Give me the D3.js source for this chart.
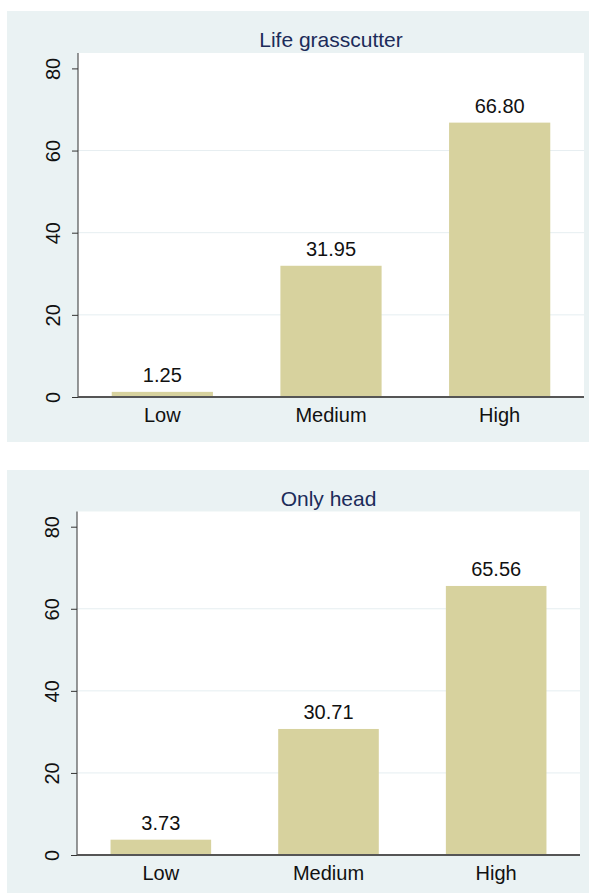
<!DOCTYPE html>
<html>
<head>
<meta charset="utf-8">
<script src="https://cdn.jsdelivr.net/npm/d3@7"></script>
<style>
  html, body { margin: 0; padding: 0; background: #ffffff; }
  svg { display: block; }
  text { font-family: "Liberation Sans", Arial, Helvetica, sans-serif; }
</style>
</head>
<body>
<svg id="chart" width="589" height="893"></svg>
<script>
// ---- data ----
const categories = ["Low", "Medium", "High"];
const panelTitles = ["Life grasscutter", "Only head"];
const lifeValues = [1.25, 31.95, 66.80];
const headValues = [3.73, 30.71, 65.56];
const yTicks = [0, 20, 40, 60, 80];
const gridTicks = [20, 40, 60];

const svg = d3.select("#chart");

const panels = [
  { title: panelTitles[0], values: lifeValues,
    box: { x: 7, y: 11, w: 582, h: 431 },
    plot: { left: 78, right: 584, top: 53, bottom: 397 }, y80: 68.4 },
  { title: panelTitles[1], values: headValues,
    box: { x: 7, y: 470, w: 582, h: 423 },
    plot: { left: 77, right: 580, top: 511.5, bottom: 855 }, y80: 526.7 }
];

panels.forEach(p => {
  const g = svg.append("g");
  // background region
  g.append("rect")
    .attr("x", p.box.x).attr("y", p.box.y)
    .attr("width", p.box.w).attr("height", p.box.h)
    .attr("fill", "#eaf2f3");
  // plot region
  g.append("rect")
    .attr("x", p.plot.left).attr("y", p.plot.top)
    .attr("width", p.plot.right - p.plot.left)
    .attr("height", p.plot.bottom - p.plot.top)
    .attr("fill", "#ffffff");

  const pxPerUnit = (p.plot.bottom - p.y80) / 80;
  const yMax = (p.plot.bottom - p.plot.top) / pxPerUnit;
  const y = d3.scaleLinear().domain([0, yMax]).range([p.plot.bottom, p.plot.top]);
  const x = d3.scaleBand().domain(categories)
    .range([p.plot.left, p.plot.right]).paddingInner(0.4).paddingOuter(0.2);

  // gridlines
  g.selectAll(".grid").data(gridTicks).enter().append("line")
    .attr("x1", p.plot.left).attr("x2", p.plot.right)
    .attr("y1", d => y(d)).attr("y2", d => y(d))
    .attr("stroke", "#e6eef1").attr("stroke-width", 1);

  // bars
  g.selectAll(".bar").data(p.values).enter().append("rect")
    .attr("x", (d, i) => x(categories[i]))
    .attr("width", x.bandwidth())
    .attr("y", d => y(d))
    .attr("height", d => y(0) - y(d))
    .attr("fill", "#d7d29e");

  // value labels
  g.selectAll(".val").data(p.values).enter().append("text")
    .attr("x", (d, i) => x(categories[i]) + x.bandwidth() / 2)
    .attr("y", d => y(d) - 10)
    .attr("text-anchor", "middle")
    .attr("font-size", 20)
    .attr("fill", "#111")
    .text(d => d.toFixed(2));

  // y axis
  const yAxis = d3.axisLeft(y).tickValues(yTicks).tickSize(6).tickPadding(12);
  const ya = g.append("g").attr("transform", `translate(${p.plot.left},0)`).call(yAxis);
  ya.select(".domain").attr("stroke", "#333").attr("d", `M0,${p.plot.bottom}V${p.plot.top}`);
  ya.selectAll(".tick line").attr("stroke", "#333");
  ya.selectAll(".tick text")
    .attr("font-size", 20).attr("fill", "#111")
    .attr("font-family", "Liberation Sans, Arial, sans-serif")
    .attr("transform", "rotate(-90)")
    .attr("x", 0).attr("y", -18)
    .attr("dy", 0)
    .attr("text-anchor", "middle");

  // x axis
  const xAxis = d3.axisBottom(x).tickSize(0).tickPadding(0);
  const xa = g.append("g").attr("transform", `translate(0,${p.plot.bottom})`).call(xAxis);
  xa.select(".domain").attr("stroke", "#555").attr("stroke-width", 2)
    .attr("d", `M${p.plot.left},0H${p.plot.right}`);
  xa.selectAll(".tick text")
    .attr("font-size", 20).attr("fill", "#111")
    .attr("font-family", "Liberation Sans, Arial, sans-serif")
    .attr("y", 24.5).attr("dy", 0);

  // title
  g.append("text")
    .attr("x", (p.plot.left + p.plot.right) / 2)
    .attr("y", p.box.y + 35.5)
    .attr("text-anchor", "middle")
    .attr("font-size", 21)
    .attr("fill", "#1c2c5a")
    .text(p.title);
});
</script>
</body>
</html>
